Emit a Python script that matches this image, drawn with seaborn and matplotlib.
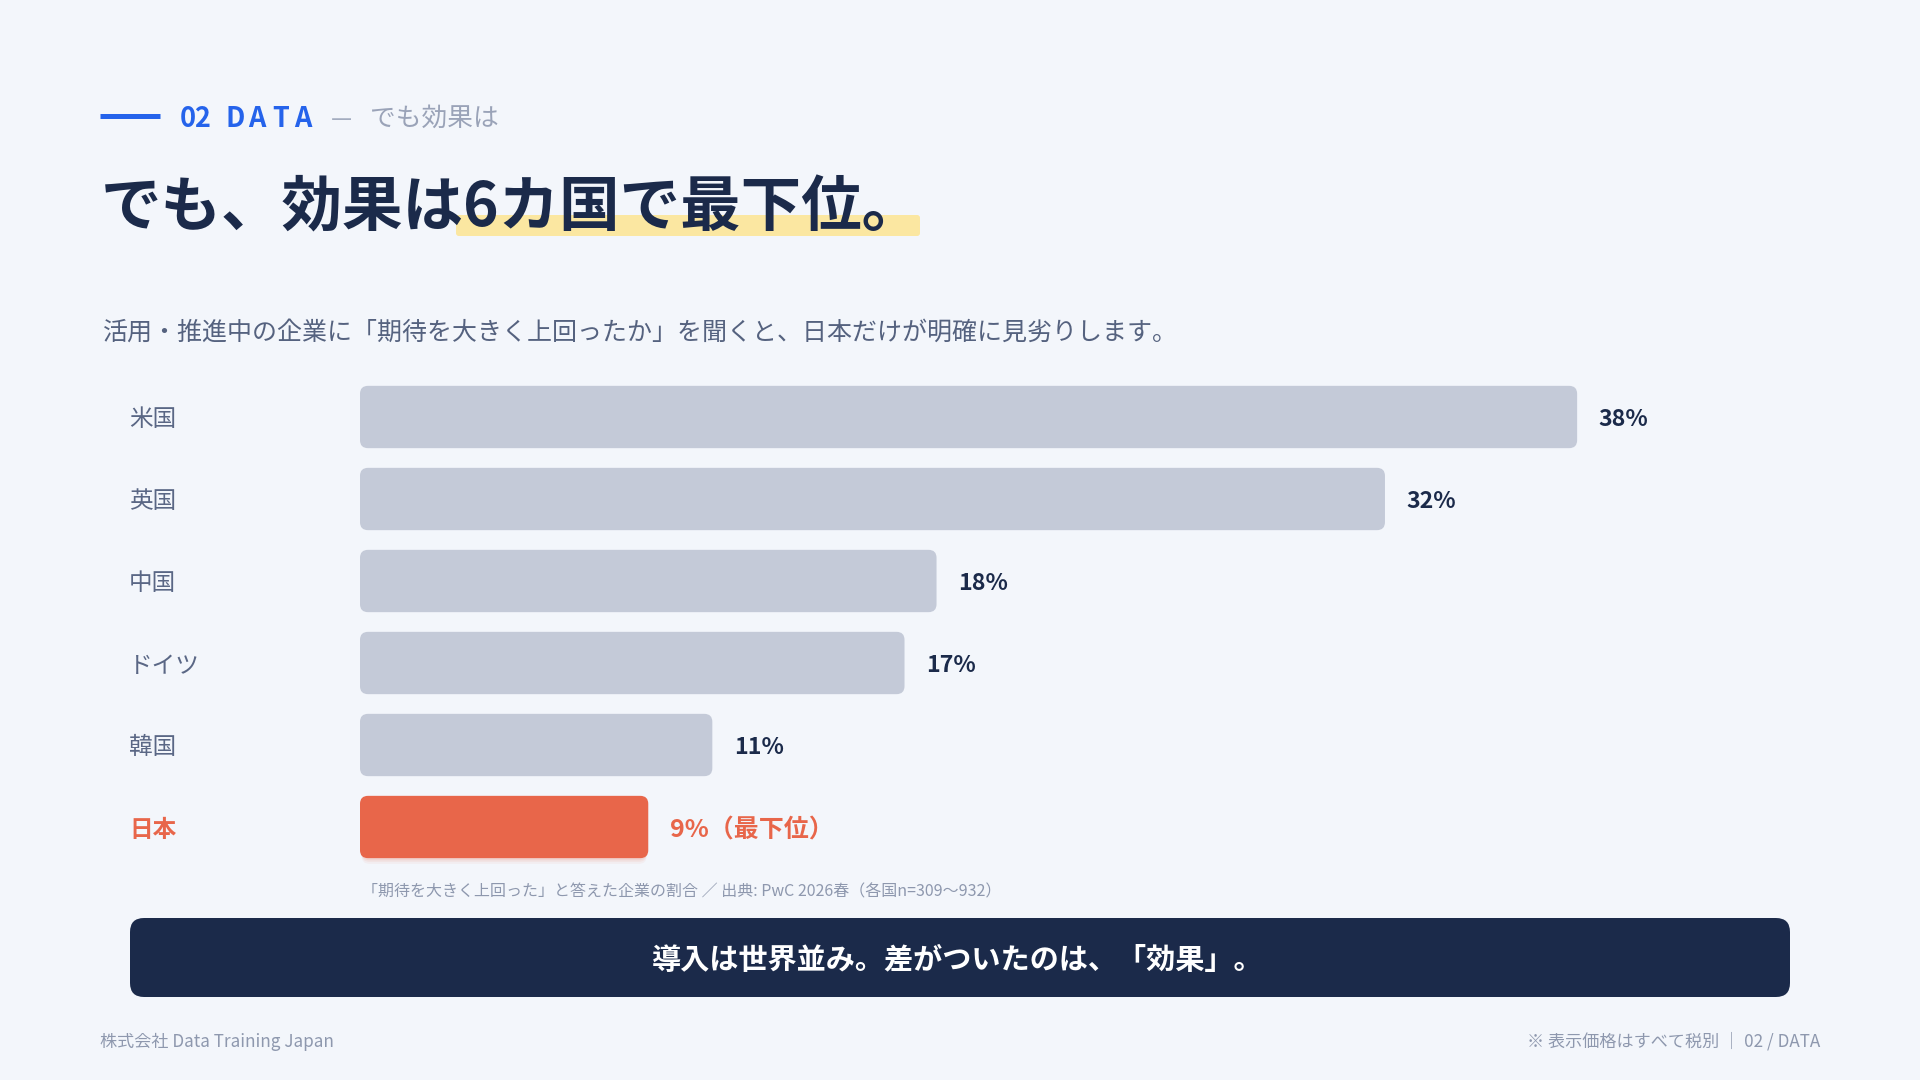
import numpy as np
import pandas as pd
import matplotlib
matplotlib.use("Agg")
import matplotlib.pyplot as plt
import seaborn as sns
from matplotlib.patches import FancyBboxPatch
from matplotlib.lines import Line2D
from matplotlib.transforms import blended_transform_factory

# ---------------- data ----------------
countries = ["米国", "英国", "中国", "ドイツ", "韓国", "日本"]
values = [38, 32, 18, 17, 11, 9]
value_labels = ["38%", "32%", "18%", "17%", "11%", "9%（最下位）"]
highlight_country = "日本"

header_tag = "02 DATA"
header_sub = "でも効果は"
title_plain = "でも、効果は"
title_marked = "6カ国で最下位。"
subtitle = "活用・推進中の企業に「期待を大きく上回ったか」を聞くと、日本だけが明確に見劣りします。"
footnote = "「期待を大きく上回った」と答えた企業の割合 ／ 出典: PwC 2026春（各国n=309〜932）"
banner_text = "導入は世界並み。差がついたのは、「効果」。"
footer_left = "株式会社 Data Training Japan"
footer_right = "※ 表示価格はすべて税別 ｜ 02 / DATA"

# ---------------- style ----------------
BG = "#F3F6FB"
NAVY = "#1B2A4A"
BLUE = "#2563EB"
GREY_BAR = "#C4CAD8"
RED = "#E8664A"
LABEL = "#5A6785"
MUTED = "#8E98AE"

sns.set_theme(style="white")
plt.rcParams["font.family"] = ["Noto Sans CJK JP", "DejaVu Sans"]

W, H = 1920, 1080
TY = 3  # vertical text nudge (px) for centred CJK text
fig = plt.figure(figsize=(19.2, 10.8), dpi=100, facecolor=BG)

def fx(px):
    return px / W

def fy(py):
    return 1 - py / H

# ---------------- header ----------------
fig.add_artist(Line2D([fx(100), fx(160)], [fy(116), fy(116)], lw=3.6,
                      color=BLUE, solid_capstyle="butt"))
tag_x = [180, 194.5, None, 225, 248.5, 272, 294]
for ch, px in zip(header_tag, tag_x):
    if ch == " " or px is None:
        continue
    fig.text(fx(px), fy(116 + TY), ch, fontsize=19.5, fontweight="bold",
             color=BLUE, va="center", ha="left")
fig.text(fx(331), fy(116 + TY), "—", fontsize=17, color="#A3ACBF", va="center", ha="left")
fig.text(fx(370), fy(116 + TY), header_sub, fontsize=18.5, color="#9AA3B8",
         va="center", ha="left")

# ---------------- title ----------------
hl = FancyBboxPatch((fx(456), fy(236)), fx(920) - fx(456), 21 / H,
                    boxstyle="round,pad=0,rounding_size=0.0015",
                    mutation_aspect=W / H,
                    transform=fig.transFigure, fc="#FBE7A1", ec="none", zorder=0)
fig.add_artist(hl)
fig.text(fx(101), fy(209), title_plain + title_marked, fontsize=43.6,
         fontweight="bold", color=NAVY, va="center", ha="left", zorder=2)

# ---------------- subtitle ----------------
fig.text(fx(103), fy(330 + TY), subtitle, fontsize=18.0, color="#55627F",
         va="center", ha="left")

# ---------------- bar chart ----------------
px_per_unit = 32.03
x_left, x_units = 360, 40
row0, row_gap = 417, 82
top_px = row0 - row_gap / 2
bot_px = row0 + row_gap * 5 + row_gap / 2
ax = fig.add_axes([fx(x_left), fy(bot_px), (x_units * px_per_unit) / W,
                   (bot_px - top_px) / H])
ax.set_facecolor("none")

df = pd.DataFrame({"country": countries, "value": values})
palette = {c: (RED if c == highlight_country else GREY_BAR) for c in countries}
sns.barplot(data=df, x="value", y="country", hue="country", palette=palette,
            legend=False, width=0.76, saturation=1, ax=ax, order=countries)
ax.set_xlim(0, x_units)
ax.set_ylim(5.5, -0.5)

# rounded bars, geometry taken from the seaborn bars
aspect = (1 / row_gap) / (1 / px_per_unit)
rad = 8 / px_per_unit
for p in list(ax.patches):
    x0, y0, w, h = p.get_x(), p.get_y(), p.get_width(), p.get_height()
    fc = p.get_facecolor()
    p.set_visible(False)
    if matplotlib.colors.to_hex(fc).lower() == RED.lower():
        for k, a in [(0.07, 0.06), (0.045, 0.08), (0.025, 0.10)]:
            sh = FancyBboxPatch((x0 + 0.05, y0 + k), w - 0.1, h,
                                boxstyle=f"round,pad=0,rounding_size={rad}",
                                mutation_aspect=aspect, fc=RED, ec="none",
                                alpha=a, zorder=1)
            ax.add_patch(sh)
    rb = FancyBboxPatch((x0, y0), w, h,
                        boxstyle=f"round,pad=0,rounding_size={rad}",
                        mutation_aspect=aspect, fc=fc, ec="none", zorder=2)
    ax.add_patch(rb)

off_pt = -TY * 72 / 100
for i, (c, v, lab) in enumerate(zip(countries, values, value_labels)):
    is_hl = c == highlight_country
    ax.annotate(lab, xy=(v, i), xytext=(15.5, off_pt), textcoords="offset points",
                va="center", ha="left", fontsize=18 if is_hl else 16.7,
                fontweight="bold", color=RED if is_hl else NAVY)

trans = blended_transform_factory(fig.transFigure, ax.transData)
for i, c in enumerate(countries):
    is_hl = c == highlight_country
    ax.annotate(c, xy=(fx(129), i), xycoords=trans, xytext=(0, off_pt),
                textcoords="offset points", va="center", ha="left",
                fontsize=17, color=RED if is_hl else LABEL,
                fontweight="bold" if is_hl else "normal")

ax.set_xlabel("")
ax.set_ylabel("")
ax.set_xticks([])
ax.set_yticks([])
for s in ax.spines.values():
    s.set_visible(False)

# ---------------- footnote ----------------
fig.text(fx(362), fy(889 + TY), footnote, fontsize=11.5, color=MUTED,
         va="center", ha="left")

# ---------------- banner ----------------
banner = FancyBboxPatch((fx(130), fy(997)), fx(1790) - fx(130), 79 / H,
                        boxstyle=f"round,pad=0,rounding_size={14 / W}",
                        mutation_aspect=W / H, transform=fig.transFigure,
                        fc=NAVY, ec="none")
fig.add_artist(banner)
fig.text(fx(958), fy(957 + TY), banner_text, fontsize=21, fontweight="bold",
         color="white", va="center", ha="center")

# ---------------- footer ----------------
fig.text(fx(100), fy(1040 + 1.5), footer_left, fontsize=12.3, color=MUTED,
         va="center", ha="left")
fig.text(fx(1820), fy(1040 + 1.5), footer_right, fontsize=12.3, color=MUTED,
         va="center", ha="right")

fig.savefig("out.png", dpi=100, facecolor=BG)
